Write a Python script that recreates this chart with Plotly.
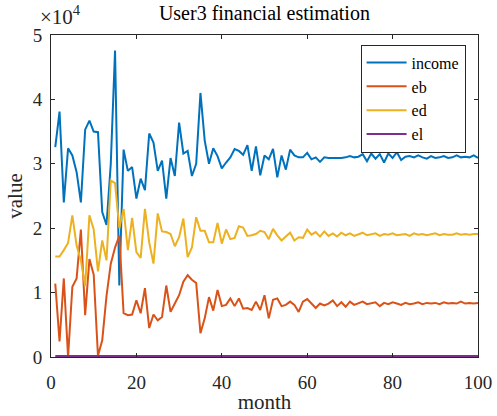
import plotly.graph_objects as go

months = list(range(1, 101))

income = [32.6, 38.1, 24.0, 32.4, 31.3, 28.7, 24.0, 35.3, 36.7, 35.0,
          34.9, 22.5, 20.5, 30.0, 47.6, 11.1, 32.2, 28.9, 29.5, 24.6,
          27.7, 25.9, 34.7, 33.3, 28.9, 30.5, 24.6, 30.9, 28.1, 36.4,
          31.6, 32.0, 28.1, 30.0, 41.0, 33.6, 30.0, 32.4, 31.2, 29.3,
          30.2, 31.0, 32.3, 32.0, 31.4, 32.9, 28.9, 32.7, 28.2, 31.3,
          30.7, 32.3, 27.9, 31.3, 29.1, 32.2, 31.3, 31.0, 31.0, 31.7,
          30.7, 31.0, 30.3, 31.0, 30.9, 30.9, 30.8, 30.9, 31.0, 31.2,
          31.0, 31.1, 31.5, 30.4, 31.6, 30.8, 31.5, 30.2, 31.6, 30.9,
          31.8, 30.6, 31.1, 31.2, 31.0, 31.3, 31.0, 30.8, 31.2, 30.9,
          31.0, 31.2, 30.9, 31.0, 31.3, 31.0, 31.1, 31.0, 31.3, 30.9]

eb = [11.4, 2.4, 12.2, 0.0, 10.9, 12.2, 19.8, 6.5, 15.2, 12.8,
      0.2, 2.6, 9.5, 14.5, 17.0, 18.8, 6.8, 6.5, 6.6, 8.8,
      6.8, 10.7, 4.5, 6.6, 5.7, 6.2, 11.1, 7.0, 8.3, 9.6,
      11.7, 12.7, 12.0, 11.5, 3.7, 6.0, 9.3, 7.2, 10.4, 7.9,
      8.1, 9.1, 7.9, 9.1, 7.5, 7.6, 7.3, 8.6, 7.3, 9.6,
      6.0, 8.9, 9.1, 7.9, 8.1, 8.6, 8.1, 7.0, 8.6, 9.0,
      8.3, 7.6, 8.3, 8.0, 8.3, 8.8, 7.9, 8.5, 7.8, 8.6,
      8.1, 8.4, 8.6, 8.2, 8.3, 8.5, 7.9, 8.4, 8.2, 8.5,
      8.3, 8.1, 8.4, 8.2, 8.3, 8.5, 8.2, 8.4, 8.3, 8.4,
      8.2, 8.5, 8.3, 8.4, 8.3, 8.6, 8.3, 8.4, 8.3, 8.4]

ed = [15.6, 15.6, 16.6, 17.7, 22.0, 17.3, 15.0, 11.0, 22.0, 19.8,
      13.3, 18.1, 15.0, 27.4, 27.0, 20.0, 23.0, 16.6, 21.6, 16.3,
      15.4, 23.0, 17.8, 14.5, 22.3, 19.5, 19.4, 19.1, 17.2, 18.6,
      21.5, 15.5, 17.0, 21.7, 19.6, 19.6, 17.8, 17.8, 20.8, 17.6,
      19.8, 18.3, 18.5, 20.3, 20.1, 18.8, 18.9, 19.1, 19.6, 19.4,
      18.3, 19.9, 18.9, 18.1, 18.7, 19.3, 18.1, 18.6, 18.5, 19.8,
      19.0, 19.4, 18.7, 19.5, 18.8, 19.2, 18.7, 19.3, 18.9, 19.2,
      18.8, 19.1, 19.3, 18.9, 19.0, 19.2, 18.8, 19.1, 19.0, 19.2,
      18.9, 19.0, 19.1, 18.8, 19.2, 19.0, 19.1, 18.9, 19.0, 19.2,
      18.9, 19.1, 19.0, 19.0, 19.2, 19.0, 19.1, 19.0, 19.1, 19.1]

el = [0.15] * 100

series = [("income", income, "#0072BD"), ("eb", eb, "#D95319"),
          ("ed", ed, "#EDB120"), ("el", el, "#7E2F8E")]

ytick_vals = [0, 10000, 20000, 30000, 40000, 50000]
ytick_text = ["0", "1", "2", "3", "4", "5"]
xtick_vals = [0, 20, 40, 60, 80, 100]

FONT = "Liberation Serif"

fig = go.Figure()
for name, vals, color in series:
    fig.add_trace(go.Scatter(x=months, y=[v * 1000 for v in vals], mode="lines",
                             name=name, line=dict(color=color, width=2)))

axis_common = dict(showgrid=False, zeroline=False, showline=True, linecolor="#262626",
                   linewidth=1, mirror="ticks", ticks="inside", ticklen=4, automargin=False,
                   tickcolor="#262626", tickfont=dict(family=FONT, size=19, color="#262626"))

fig.update_layout(
    width=497, height=416,
    margin=dict(l=51, r=19, t=35, b=59),
    paper_bgcolor="white", plot_bgcolor="white",
    title=dict(text="User3 financial estimation", x=0.532, xanchor="center", y=0.985, yanchor="top",
               font=dict(family=FONT, size=20, color="#000000")),
    xaxis=dict(range=[0, 100], tickvals=xtick_vals, ticklabelstandoff=8,
               title=dict(text="month", font=dict(family=FONT, size=21, color="#262626"), standoff=2),
               **axis_common),
    yaxis=dict(range=[0, 50000], tickvals=ytick_vals, ticktext=ytick_text, ticklabelstandoff=4,
               title=dict(text="value", font=dict(family=FONT, size=21, color="#262626"), standoff=4),
               **axis_common),
    legend=dict(x=0.725, y=0.97, xanchor="left", yanchor="top", bgcolor="white",
                bordercolor="#262626", borderwidth=1,
                font=dict(family=FONT, size=16, color="#000000"),
                tracegroupgap=0, itemwidth=40),
    annotations=[dict(text="×10<sup>4</sup>", xref="paper", yref="paper", x=-0.03, y=1.0,
                      xanchor="left", yanchor="bottom", showarrow=False, yshift=4,
                      font=dict(family=FONT, size=21, color="#262626"))],
    showlegend=True,
)

fig.write_html("out.html")
